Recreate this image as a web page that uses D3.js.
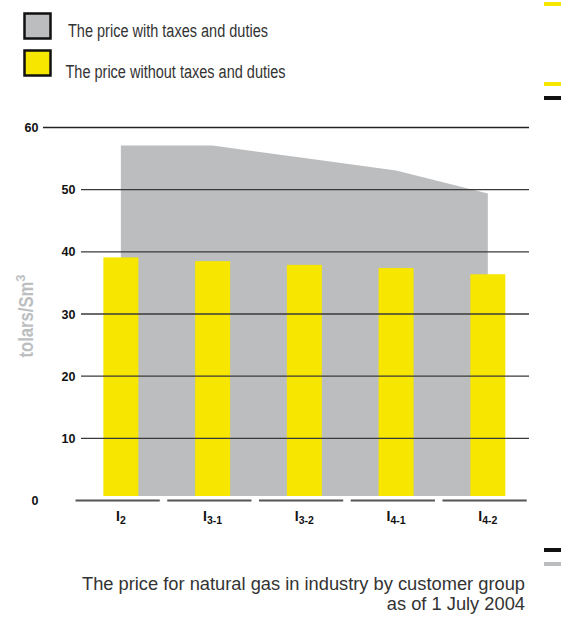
<!DOCTYPE html>
<html>
<head>
<meta charset="utf-8">
<script src="https://cdnjs.cloudflare.com/ajax/libs/d3/7.8.5/d3.min.js"></script>
<style>
  html, body { margin: 0; padding: 0; background: #fff; }
  svg { display: block; }
  text { font-family: "Liberation Sans", Arial, sans-serif; }
</style>
</head>
<body>
<svg id="chart" width="561" height="618"></svg>
<script>
// ---- data ----
const categories = ["2", "3-1", "3-2", "4-1", "4-2"];          // subscripts of "I"
const priceWithTaxes = [57.1, 57.1, 55.1, 53.1, 49.4];          // tolars/Sm3
const priceWithoutTaxes = [39.1, 38.5, 37.9, 37.4, 36.4];       // tolars/Sm3
const yTicks = [0, 10, 20, 30, 40, 50, 60];
const legendLabels = ["The price with taxes and duties", "The price without taxes and duties"];
const captionLines = ["The price for natural gas in industry by customer group", "as of 1 July 2004"];
const yTitle = "tolars/Sm";

// ---- styles ----
const GREY = "#bbbdbf";
const YELLOW = "#f7e600";

const svg = d3.select("#chart");

const x = d3.scaleBand().domain(categories).range([75, 533.7]);
const y = d3.scaleLinear().domain([0, 60]).range([500.5, 127.5]);
const gridLeftOuter = 43, gridLeftInner = 81, gridRight = 529;
const baseGap = 4.5;  // bars sit slightly above the zero line
const barW = 35;

// grey area (price with taxes) through band centres
const area = d3.area()
  .x((d, i) => x(categories[i]) + x.bandwidth() / 2)
  .y0(y(0) - baseGap)
  .y1(d => y(d));
svg.append("path")
  .datum(priceWithTaxes)
  .attr("d", area)
  .attr("fill", GREY);

// yellow bars
svg.append("g").selectAll("rect")
  .data(priceWithoutTaxes)
  .join("rect")
  .attr("x", (d, i) => x(categories[i]) + x.bandwidth() / 2 - barW / 2)
  .attr("width", barW)
  .attr("y", d => y(d))
  .attr("height", d => (y(0) - baseGap) - y(d))
  .attr("fill", YELLOW);

// grid lines (0 is drawn as segmented axis)
const outer = v => v === 0 || v === 60;
svg.append("g").selectAll("line")
  .data(yTicks.filter(v => v !== 0))
  .join("line")
  .attr("x1", d => outer(d) ? gridLeftOuter : gridLeftInner)
  .attr("x2", gridRight)
  .attr("y1", d => y(d)).attr("y2", d => y(d))
  .attr("stroke", d => d === 60 ? "#222" : "#3a3a3a")
  .attr("stroke-width", 1.4);

// segmented zero axis
svg.append("g").selectAll("line")
  .data(categories)
  .join("line")
  .attr("x1", d => Math.max(gridLeftOuter, x(d) + 0.5))
  .attr("x2", d => Math.min(gridRight, x(d) + x.bandwidth() - 7))
  .attr("y1", y(0)).attr("y2", y(0))
  .attr("stroke", "#555")
  .attr("stroke-width", 2);

// y tick labels
svg.append("g").selectAll("text")
  .data(yTicks)
  .join("text")
  .attr("x", d => outer(d) ? 38.5 : 75.5)
  .attr("y", d => y(d))
  .attr("dy", "0.36em")
  .attr("text-anchor", "end")
  .attr("font-size", 12.5)
  .attr("font-weight", "bold")
  .attr("fill", "#111")
  .text(d => d);

// x category labels
const xl = svg.append("g").selectAll("text")
  .data(categories)
  .join("text")
  .attr("x", d => x(d) + x.bandwidth() / 2)
  .attr("y", 521)
  .attr("text-anchor", "middle")
  .attr("font-weight", "bold")
  .attr("fill", "#111");
xl.append("tspan").attr("font-size", 14).text("I");
xl.append("tspan").attr("font-size", 10.5).attr("dy", 3).text(d => d);

// y axis title
const yt = svg.append("text")
  .attr("transform", "translate(33,316) rotate(-90)")
  .attr("text-anchor", "middle")
  .attr("font-weight", "bold")
  .attr("fill", "#bcbec0");
yt.append("tspan").attr("font-size", 20)
  .attr("textLength", 76).attr("lengthAdjust", "spacingAndGlyphs").text(yTitle);
yt.append("tspan").attr("font-size", 13).attr("dy", -8).text("3");

// legend
const legendColors = [GREY, YELLOW];
const legendWidths = [200, 220];
const lg = svg.append("g").selectAll("g")
  .data(legendLabels)
  .join("g")
  .attr("transform", (d, i) => `translate(0,${i * 37})`);
lg.append("rect")
  .attr("x", 24.5).attr("y", 13.5)
  .attr("width", 26).attr("height", 25)
  .attr("fill", (d, i) => legendColors[i])
  .attr("stroke", "#111").attr("stroke-width", 2.5);
lg.append("text")
  .attr("x", (d, i) => i === 0 ? 68 : 65.5)
  .attr("y", (d, i) => i === 0 ? 37 : 40.5)
  .attr("font-size", 18)
  .attr("textLength", (d, i) => legendWidths[i])
  .attr("lengthAdjust", "spacingAndGlyphs")
  .attr("fill", "#333")
  .text(d => d);

// caption
svg.append("g").selectAll("text")
  .data(captionLines)
  .join("text")
  .attr("x", 525)
  .attr("y", (d, i) => 590 + i * 20)
  .attr("text-anchor", "end")
  .attr("font-size", 18.3)
  .attr("fill", "#333")
  .text(d => d);

// page decorations (margin marks)
const marks = [
  {y: 2, c: YELLOW}, {y: 82, c: YELLOW}, {y: 96, c: "#111"},
  {y: 548, c: "#111"}, {y: 562, c: "#bbbdbf"}
];
svg.append("g").selectAll("rect")
  .data(marks)
  .join("rect")
  .attr("x", 544).attr("width", 17)
  .attr("y", d => d.y).attr("height", 4)
  .attr("fill", d => d.c);
</script>
</body>
</html>
